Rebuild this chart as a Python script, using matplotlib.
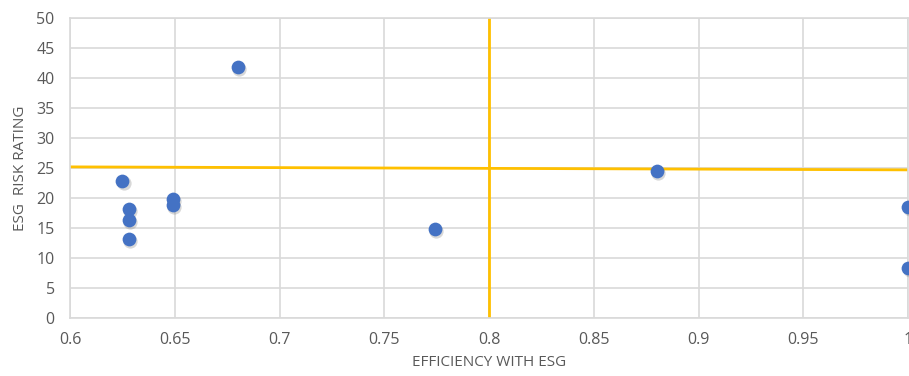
import matplotlib.pyplot as plt
import matplotlib.transforms as mtransforms

# efficiency score vs ESG risk rating per company
efficiency = [0.625, 0.628, 0.628, 0.628, 0.649, 0.649, 0.680, 0.774, 0.880, 1.0, 1.0]
risk_rating = [22.8, 18.2, 16.4, 13.2, 19.8, 18.9, 41.8, 14.8, 24.5, 18.5, 8.4]

# quadrant divider lines (from trendline-style endpoints)
hline_x = [0.6, 1.0]
hline_y = [25.2, 24.7]
vline_x = 0.8
vline_y = [0, 50]

plt.rcParams['font.family'] = ['Open Sans', 'DejaVu Sans']

fig = plt.figure(figsize=(9.09, 3.76), dpi=100)
ax = fig.add_axes([0.077, 0.154, 0.922, 0.798])

grid_c = '#D9D9D9'
text_c = '#595959'

ax.set_xlim(0.6, 1.0)
ax.set_ylim(0, 50)
ax.set_xticks([0.6, 0.65, 0.7, 0.75, 0.8, 0.85, 0.9, 0.95, 1.0])
ax.set_xticklabels(['0.6', '0.65', '0.7', '0.75', '0.8', '0.85', '0.9', '0.95', '1'])
ax.set_yticks(range(0, 51, 5))
ax.grid(True, color=grid_c, linewidth=1.2)
ax.set_axisbelow(True)
for s in ax.spines.values():
    s.set_color(grid_c)
    s.set_linewidth(1.2)
ax.tick_params(length=0, colors=text_c, labelsize=11.5)
ax.tick_params(axis='x', pad=10)
ax.tick_params(axis='y', pad=11)

ax.plot(hline_x, hline_y, color='#FFC000', linewidth=2, zorder=2)
ax.plot([vline_x, vline_x], vline_y, color='#FFC000', linewidth=2, zorder=2)

# soft drop shadow under markers
shadow = mtransforms.offset_copy(ax.transData, fig=fig, x=1.2, y=-1.5, units='points')
ax.scatter(efficiency, risk_rating, s=105, color='#7f7f7f', alpha=0.3,
           linewidths=0, transform=shadow, zorder=3)
ax.scatter(efficiency, risk_rating, s=98, color='#4472C4', linewidths=0, zorder=4)

ax.set_xlabel('EFFICIENCY WITH ESG', color=text_c, fontsize=11, labelpad=5)
ax.set_ylabel('ESG  RISK RATING', color=text_c, fontsize=11, labelpad=6)

fig.savefig('out.png', dpi=100)
